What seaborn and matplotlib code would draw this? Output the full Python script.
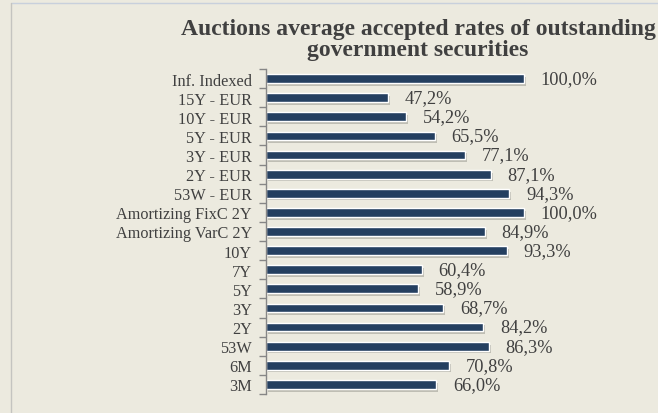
import matplotlib
matplotlib.use("Agg")
import matplotlib.pyplot as plt
import matplotlib.patheffects as pe
from matplotlib.lines import Line2D
import pandas as pd
import seaborn as sns

categories = ["Inf. Indexed", "15Y - EUR", "10Y - EUR", "5Y - EUR", "3Y - EUR", "2Y - EUR",
              "53W - EUR", "Amortizing FixC 2Y", "Amortizing VarC 2Y", "10Y", "7Y", "5Y",
              "3Y", "2Y", "53W", "6M", "3M"]
rates = [100.0, 47.2, 54.2, 65.5, 77.1, 87.1, 94.3, 100.0, 84.9, 93.3, 60.4, 58.9,
         68.7, 84.2, 86.3, 70.8, 66.0]

bg = "#ECEADF"
bar_color = "#243F60"
text_color = "#404040"

sns.set_style("white")
plt.rcParams["font.family"] = ["Liberation Serif", "DejaVu Serif"]

df = pd.DataFrame({"security": categories, "rate": rates})

fig = plt.figure(figsize=(6.58, 4.14), dpi=100, facecolor=bg)
ax = fig.add_axes([266 / 658, 1 - 395 / 414, (640 - 266) / 658, (395 - 70) / 414])
ax.set_facecolor(bg)

sns.barplot(data=df, x="rate", y="security", color=bar_color, width=0.46,
            saturation=1, ax=ax, orient="h")
# soft drop shadow under the bars
for p in ax.patches:
    p.set_path_effects([pe.SimplePatchShadow(offset=(1.5, -2), shadow_rgbFace="#8a8a80", alpha=0.45),
                        pe.Normal()])

labels = [f"{v:.1f}%".replace(".", ",") for v in rates]
ax.bar_label(ax.containers[0], labels=labels, padding=12, fontsize=13.2, color=text_color)

ax.set_xlim(0, 100 * (640 - 266) / 258)
ax.set_ylim(len(categories) - 0.5, -0.5)
ax.set_xlabel("")
ax.set_ylabel("")
ax.set_xticks([])

# ticks sit between categories
ax.set_yticks(range(len(categories)))
ax.set_yticklabels(categories, fontsize=11.7, color=text_color)
ax.tick_params(axis="y", which="major", length=0, pad=10)
ax.set_yticks([i - 0.5 for i in range(len(categories) + 1)], minor=True)
ax.tick_params(axis="y", which="minor", left=True, length=5, color="#868686", width=1)

for s in ["top", "right", "bottom"]:
    ax.spines[s].set_visible(False)
ax.spines["left"].set_color("#868686")
ax.spines["left"].set_linewidth(1)

fig.text(418 / 658, 1 - 40 / 414, "Auctions average accepted rates of outstanding\ngovernment securities",
         ha="center", va="center", fontsize=17, fontweight="bold", color=text_color,
         linespacing=1.0)

# outer frame lines
fig.add_artist(Line2D([11 / 658, 1], [1 - 4 / 414, 1 - 4 / 414], color="#C8D0DC", lw=1))
fig.add_artist(Line2D([11 / 658, 11 / 658], [0, 1 - 4 / 414], color="#C4C4C0", lw=1))

fig.savefig("out.png", dpi=100, facecolor=bg)
